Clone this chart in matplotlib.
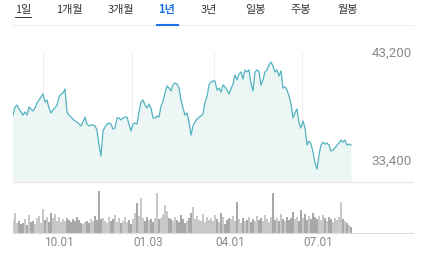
import numpy as np
import matplotlib.pyplot as plt

# daily close (won), about one year
price = [37570, 38300, 38480, 38120, 37850, 37570, 37850, 37570, 38300, 38120,
         37940, 38210, 38660, 38940, 39210, 39480, 38750, 38940, 38210, 37760,
         38030, 38210, 38480, 39210, 39480, 39570, 39930, 37850, 37570, 37390,
         37210, 37030, 36940, 36760, 36580, 36940, 37390, 36760, 36580, 36670,
         36670, 36580, 36210, 34850, 33850, 36120, 36490, 36760, 36850, 36760,
         36300, 36390, 37300, 37300, 37120, 37300, 37390, 37390, 36760, 36120,
         36760, 36850, 36760, 37850, 38750, 38940, 38480, 38210, 38570, 38210,
         37300, 37300, 37480, 37390, 38390, 38840, 39570, 40210, 40020, 39750,
         40300, 40480, 40390, 40020, 38940, 38210, 37570, 37760, 36940, 35760,
         36580, 36940, 37210, 37390, 37480, 37670, 38750, 39210, 40300, 40570,
         40660, 40660, 39840, 40020, 39660, 40300, 40120, 39840, 39480, 39930,
         40390, 41200, 40750, 41300, 41480, 40840, 41660, 41480, 41660, 40390,
         39750, 41480, 41660, 41480, 40300, 40750, 41480, 41660, 42110, 42380,
         42020, 41480, 41660, 41110, 41570, 40020, 40120, 39840, 39300, 38570,
         37300, 37760, 38120, 36850, 36390, 37030, 36390, 34850, 35210, 34940,
         34220, 33220, 32670, 33940, 34850, 35120, 34940, 35030, 34850, 34310,
         34400, 34580, 34850, 35030, 35310, 35120, 35310, 34850, 34940, 34850]

# volume (thousand shares)
volume = [130, 200, 100, 120, 90, 100, 140, 80, 180, 110,
          120, 90, 150, 170, 100, 240, 130, 160, 110, 200,
          150, 190, 120, 160, 110, 140, 120, 150, 130, 110,
          140, 120, 160, 130, 100, 90, 110, 120, 100, 140,
          120, 170, 130, 420, 140, 150, 120, 100, 160, 120,
          140, 180, 110, 150, 100, 120, 160, 110, 130, 90,
          140, 200, 300, 170, 350, 150, 120, 160, 130, 140,
          110, 150, 400, 140, 150, 190, 280, 220, 150, 140,
          120, 160, 130, 110, 180, 140, 100, 120, 150, 200,
          260, 140, 170, 130, 120, 190, 110, 160, 130, 150,
          120, 180, 140, 110, 200, 160, 90, 130, 150, 140,
          170, 120, 310, 140, 100, 150, 120, 130, 160, 110,
          140, 120, 170, 130, 150, 120, 180, 140, 110, 160,
          400, 130, 150, 120, 190, 140, 120, 160, 130, 150,
          210, 140, 160, 120, 230, 150, 190, 130, 170, 140,
          200, 160, 140, 170, 130, 180, 150, 120, 160, 140,
          110, 150, 130, 160, 310, 140, 120, 100, 80, 60]

tabs = ['1일', '1개월', '3개월', '1년', '3년', '일봉', '주봉', '월봉']
tab_x = [23, 69, 121, 167, 209, 255, 301, 348]
month_pos = [15, 59.5, 100.5, 144.5]
month_labels = ['10.01', '01.03', '04.01', '07.01']
price_ticks = [43200, 33400]

W, H = 433, 260
fig = plt.figure(figsize=(W / 100, H / 100), dpi=100)
fig.patch.set_facecolor('white')

kr = ['Noto Sans CJK KR', 'DejaVu Sans']

# tab bar
for t, x in zip(tabs, tab_x):
    sel = t == '1년'
    fig.text(x / W, 1 - 10 / H, t, ha='center', va='center', fontsize=8,
             family=kr, color='#1a73e8' if sel else '#333333',
             fontweight='bold' if sel else 'normal')
fig.add_artist(plt.Line2D([13 / W, 413 / W], [1 - 25 / H] * 2, color='#eeeeee', lw=0.8))
fig.add_artist(plt.Line2D([157 / W, 178 / W], [1 - 25 / H] * 2, color='#1a73e8', lw=1.5))
fig.add_artist(plt.Line2D([15 / W, 31 / W], [1 - 16.5 / H] * 2, color='#333333', lw=0.7))

x = np.arange(len(price))

# price area
ax = fig.add_axes([13 / W, 1 - 182 / H, 400 / W, 131 / H])
ax.set_xlim(0, 200)
ax.set_ylim(31500, 43380)
for m in month_pos:
    ax.axvline(m, color='#f0f0f0', lw=0.8, zorder=0)
ax.fill_between(x, price, 31500, color='#ebf6f5', lw=0, zorder=1)
ax.plot(x, price, color='#52b3bf', lw=0.9, zorder=2)
for p in price_ticks:
    ax.text(0.997, p, f'{p:,}', transform=ax.get_yaxis_transform(), ha='right',
            va='center', fontsize=9.6, family='Roboto', color='#8a8a8a')
ax.axis('off')
fig.add_artist(plt.Line2D([13 / W, 413 / W], [1 - 182 / H] * 2, color='#e6e6e6', lw=0.8))

# volume bars
vx = fig.add_axes([13 / W, 1 - 233 / H, 400 / W, 43 / H])
vx.set_xlim(0, 200)
vx.set_ylim(0, 430)
diff = np.diff(price, prepend=price[0])
cols = ['#a8a8a8' if d < 0 else '#c8c8c8' for d in diff]
vx.bar(x, volume, width=0.6, color=cols, lw=0)
vx.axis('off')
fig.add_artist(plt.Line2D([13 / W, 413 / W], [1 - 233 / H] * 2, color='#dddddd', lw=0.8))
for m, lab in zip(month_pos, month_labels):
    vx.text(m + 0.5, -0.23, lab, transform=vx.get_xaxis_transform(), ha='left',
            va='center', fontsize=8.6, family='Roboto', color='#8a8a8a')

fig.savefig('out.png', dpi=100)
